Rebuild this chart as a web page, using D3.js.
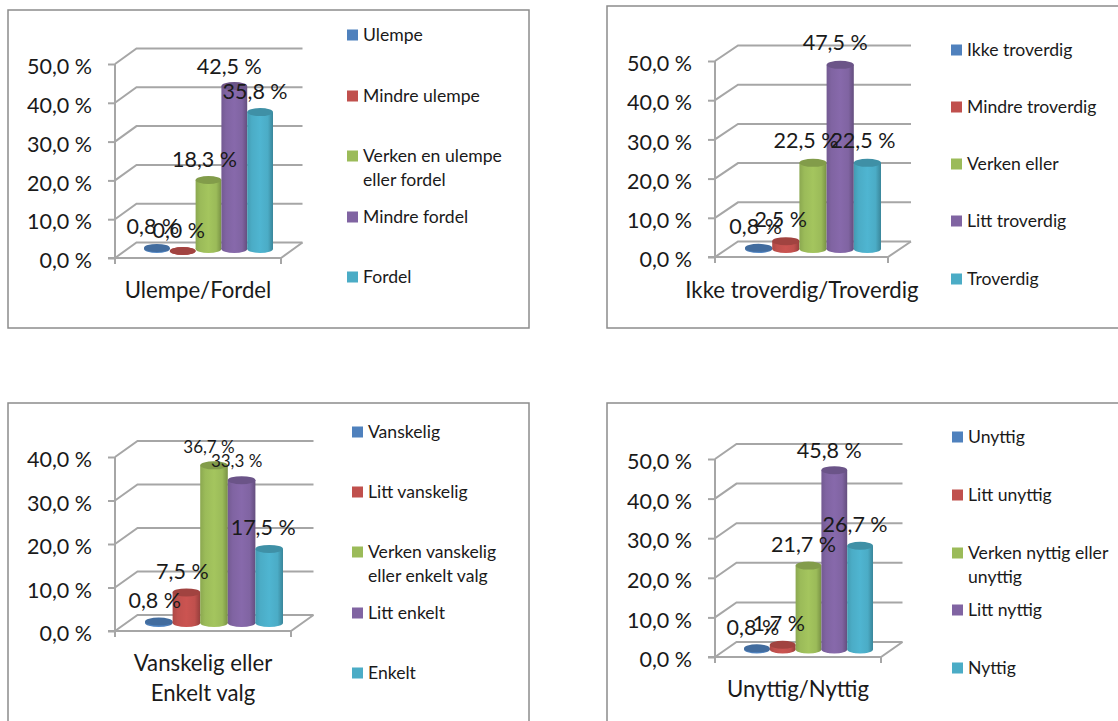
<!DOCTYPE html>
<html>
<head>
<meta charset="utf-8">
<script src="https://cdn.jsdelivr.net/npm/d3@7"></script>
<style>
  html, body { margin: 0; padding: 0; background: #fff; }
  svg { display: block; }
  text { font-family: Lato, "Open Sans", sans-serif; fill: #1a1a1a; }
</style>
</head>
<body>
<div id="chart"></div>
<script>
// Survey answers, one list per question (percent)
const ulempeLabels = ["Ulempe", "Mindre ulempe", ["Verken en ulempe", "eller fordel"], "Mindre fordel", "Fordel"];
const ulempeValues = [0.8, 0.0, 18.3, 42.5, 35.8];
const troverdigLabels = ["Ikke troverdig", "Mindre troverdig", "Verken eller", "Litt troverdig", "Troverdig"];
const troverdigValues = [0.8, 2.5, 22.5, 47.5, 22.5];
const valgLabels = ["Vanskelig", "Litt vanskelig", ["Verken vanskelig", "eller enkelt valg"], "Litt enkelt", "Enkelt"];
const valgValues = [0.8, 7.5, 36.7, 33.3, 17.5];
const nyttigLabels = ["Unyttig", "Litt unyttig", ["Verken nyttig eller", "unyttig"], "Litt nyttig", "Nyttig"];
const nyttigValues = [0.8, 1.7, 21.7, 45.8, 26.7];

const seriesColors = ["#4f81bd", "#c0504d", "#9bbb59", "#8064a2", "#4bacc6"];
const ticks50 = [0, 10, 20, 30, 40, 50];
const ticks40 = [0, 10, 20, 30, 40];

// Geometry of each chart box
const panels = [
  { title: ["Ulempe/Fordel"], labels: ulempeLabels, values: ulempeValues, ticks: ticks50,
    frame: [8, 10, 521, 318], axisX: 115, frontX: 281, y0: 258, yMax: 64, dx: 21.5, dy: 15.5,
    barX: [144, 273], lift: 7, labelDx: [-4, -4, -4, -5, -5], labelDy: [-21, -21, -21, -20, -21], labelSize: [21.5, 21.5, 21.5, 21.5, 21.5],
    legendX: 347, legendY: [35, 96, 156, 217, 277], titleX: 198, titleY: [290] },
  { title: ["Ikke troverdig/Troverdig"], labels: troverdigLabels, values: troverdigValues, ticks: ticks50,
    frame: [607, 6, 520, 322], axisX: 715, frontX: 888, y0: 257, yMax: 61, dx: 23, dy: 15.5,
    barX: [745, 881], lift: 6, labelDx: [-3, -5, -7, -5, -4.5], labelDy: [-21, -22, -22, -22, -22], labelSize: [21.5, 21.5, 21.5, 21.5, 21.5],
    legendX: 951, legendY: [50, 107, 164, 221, 279], titleX: 802, titleY: [290] },
  { title: ["Vanskelig eller", "Enkelt valg"], labels: valgLabels, values: valgValues, ticks: ticks40,
    frame: [8, 403, 521, 330], axisX: 115, frontX: 291, y0: 631, yMax: 457, dx: 22.5, dy: 16,
    barX: [145, 283], lift: 6, labelDx: [-4, -4, -5, -5, -6], labelDy: [-21, -21, -18, -19, -21], labelSize: [21.5, 21.5, 17, 17, 21.5],
    legendX: 352, legendY: [432, 492, 552, 613, 673], titleX: 203, titleY: [663, 693] },
  { title: ["Unyttig/Nyttig"], labels: nyttigLabels, values: nyttigValues, ticks: ticks50,
    frame: [607, 403, 520, 330], axisX: 715, frontX: 881, y0: 657, yMax: 459, dx: 21.5, dy: 15,
    barX: [744, 873], lift: 5.5, labelDx: [-4, -4, -5, -5, -5], labelDy: [-21, -21, -21, -20, -21], labelSize: [21.5, 21.5, 21.5, 21.5, 21.5],
    legendX: 952, legendY: [437, 495, 553, 610, 668], titleX: 798, titleY: [689] }
];

const grid = "#a6a6a6";
const formatPct = v => d3.format(".1f")(v).replace(".", ",") + " %";

const svg = d3.select("#chart").append("svg").attr("width", 1118).attr("height", 721);
const defs = svg.append("defs");

// Shaded cylinder fill for each series
seriesColors.forEach((color, i) => {
  const c = d3.color(color);
  const g = defs.append("linearGradient").attr("id", "cyl" + i);
  [[0, c.darker(0.3)], [0.18, c], [0.5, c.brighter(0.15)], [0.8, c], [1, c.darker(0.7)]].forEach(([o, col]) =>
    g.append("stop").attr("offset", o).attr("stop-color", col));
});

panels.forEach(p => {
  const g = svg.append("g");
  const [fx, fy, fw, fh] = p.frame;
  g.append("rect").attr("x", fx).attr("y", fy).attr("width", fw).attr("height", fh)
    .attr("fill", "#fff").attr("stroke", "#8c8c8c").attr("stroke-width", 1.5);

  const top = d3.max(p.ticks);
  const y = d3.scaleLinear().domain([0, top]).range([p.y0, p.yMax]);
  const x = d3.scaleBand().domain(d3.range(p.values.length)).range(p.barX).padding(0);

  // Back wall and side wall gridlines
  const walls = g.append("g").attr("fill", "none").attr("stroke", grid).attr("stroke-width", 2);
  p.ticks.forEach(t => {
    const yt = y(t);
    walls.append("path").attr("d", d3.line()([
      [p.axisX, yt], [p.axisX + p.dx, yt - p.dy], [p.frontX + p.dx, yt - p.dy]
    ]));
  });
  // Floor edges
  walls.append("path").attr("d", d3.line()([
    [p.axisX - 7, p.y0], [p.frontX, p.y0], [p.frontX + p.dx, p.y0 - p.dy]
  ]));
  walls.append("path").attr("d", d3.line()([[p.frontX, p.y0], [p.frontX, p.y0 + 6]]));

  // Value axis
  const axis = g.append("g").attr("transform", `translate(${p.axisX},0)`)
    .call(d3.axisLeft(y).tickValues(p.ticks).tickFormat(formatPct).tickSize(7).tickPadding(16));
  axis.selectAll("path.domain").remove();
  axis.selectAll("line").attr("stroke", grid).attr("stroke-width", 2);
  axis.selectAll("text").attr("font-size", 21.5).attr("dy", "0.45em").style("fill", "#1a1a1a");
  axis.append("line").attr("y1", p.yMax).attr("y2", p.y0 + 6)
    .attr("stroke", grid).attr("stroke-width", 2);

  // Cylinders, drawn left to right so each one sits against the last
  const ry = 4;
  const bars = g.selectAll("g.bar").data(p.values).join("g").attr("class", "bar");
  bars.each(function (v, i) {
    const b = d3.select(this);
    const bw = x.bandwidth();
    const xc = x(i) + bw / 2;
    const yt = y(v) - p.lift;
    const base = Math.max(p.y0 - p.lift - 2, Math.min(yt, p.y0 - p.lift));
    const dark = d3.color(seriesColors[i]).darker(0.5);
    b.append("ellipse").attr("cx", xc).attr("cy", base).attr("rx", bw / 2).attr("ry", ry)
      .attr("fill", `url(#cyl${i})`);
    b.append("rect").attr("x", x(i)).attr("y", yt).attr("width", bw).attr("height", Math.max(0, base - yt))
      .attr("fill", `url(#cyl${i})`);
    b.append("ellipse").attr("cx", xc).attr("cy", yt).attr("rx", bw / 2).attr("ry", ry)
      .attr("fill", dark);
  });

  // Value labels
  g.selectAll("text.val").data(p.values).join("text").attr("class", "val")
    .attr("x", (v, i) => x(i) + x.bandwidth() / 2 + p.labelDx[i])
    .attr("y", (v, i) => y(v) - p.lift + p.labelDy[i])
    .attr("dy", "0.35em").attr("text-anchor", "middle")
    .attr("font-size", (v, i) => p.labelSize[i])
    .text(formatPct);

  // Category axis title
  p.title.forEach((line, i) => {
    g.append("text").attr("x", p.titleX).attr("y", p.titleY[i]).attr("dy", "0.35em")
      .attr("text-anchor", "middle").attr("font-size", 22.2).text(line);
  });

  // Legend
  p.labels.forEach((label, i) => {
    const ly = p.legendY[i];
    g.append("rect").attr("x", p.legendX).attr("y", ly - 5.5).attr("width", 11).attr("height", 11)
      .attr("fill", seriesColors[i]);
    [].concat(label).forEach((line, k) => {
      g.append("text").attr("x", p.legendX + 16).attr("y", ly + k * 24).attr("dy", "0.35em")
        .attr("font-size", 17.6).text(line);
    });
  });
});
</script>
</body>
</html>
